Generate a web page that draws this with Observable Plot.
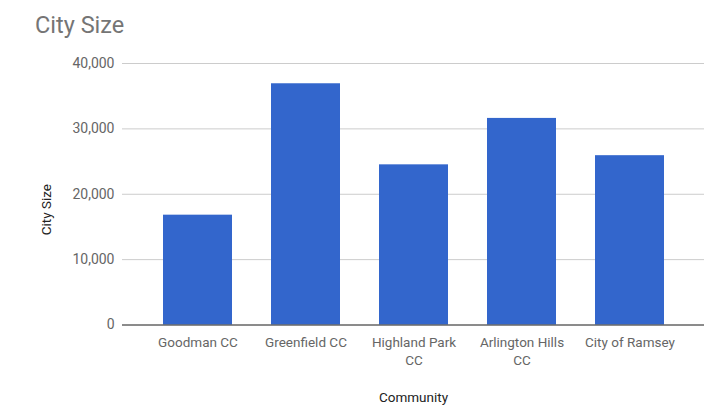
<!DOCTYPE html>
<html>
<head>
<meta charset="utf-8">
<script src="https://cdn.jsdelivr.net/npm/d3@7"></script>
<script src="https://cdn.jsdelivr.net/npm/@observablehq/plot@0.6"></script>
<style>
  body { margin: 0; background: #fff; }
  #title { height: 50px; line-height: 50px; padding-left: 35px; font-family: Roboto, sans-serif; font-size: 23.5px; color: #757575; }
</style>
</head>
<body>
<div id="title">City Size</div>
<div id="chart"></div>
<script>
const communities = ["Goodman CC", "Greenfield CC", "Highland Park CC", "Arlington Hills CC", "City of Ramsey"];
const tickLabels = ["Goodman CC", "Greenfield CC", "Highland Park\nCC", "Arlington Hills\nCC", "City of Ramsey"];
const citySize = [16800, 36900, 24500, 31600, 25900];
const yTicks = [0, 10000, 20000, 30000, 40000];
const xLabel = "Community";
const yLabel = "City Size";

const data = communities.map((c, i) => ({community: c, size: citySize[i]}));
const labelOf = new Map(communities.map((c, i) => [c, tickLabels[i]]));

const chart = Plot.plot({
  width: 709,
  height: 357,
  marginTop: 13,
  marginBottom: 82.5,
  marginLeft: 122,
  marginRight: 5,
  style: {fontFamily: "Roboto, sans-serif", fontSize: "13.5px", color: "#666", background: "#fff"},
  x: {domain: communities, paddingInner: 0.365, paddingOuter: 0.36, label: null},
  y: {domain: [0, 40000], label: null},
  marks: [
    Plot.gridY(yTicks, {stroke: "#ccc", strokeOpacity: 1}),
    Plot.barY(data, {x: "community", y: "size", fill: "#3366cc"}),
    Plot.ruleY([0], {stroke: "#333", strokeWidth: 1.2}),
    Plot.axisY({ticks: yTicks, tickSize: 0, tickPadding: 8, tickFormat: d3.format(","), label: null, fill: "#666", fontSize: 14}),
    Plot.axisX({tickSize: 0, tickPadding: 10, tickFormat: d => labelOf.get(d), lineHeight: 1.3, label: null, fill: "#666", fontSize: 13.5}),
    Plot.text([yLabel], {frameAnchor: "left", rotate: -90, dx: -76, dy: 41, fill: "#222", fontSize: 13.5}),
    Plot.text([xLabel], {frameAnchor: "bottom", dy: 76.5, fill: "#222", fontSize: 13.5})
  ]
});
document.getElementById("chart").appendChild(chart);
</script>
</body>
</html>
